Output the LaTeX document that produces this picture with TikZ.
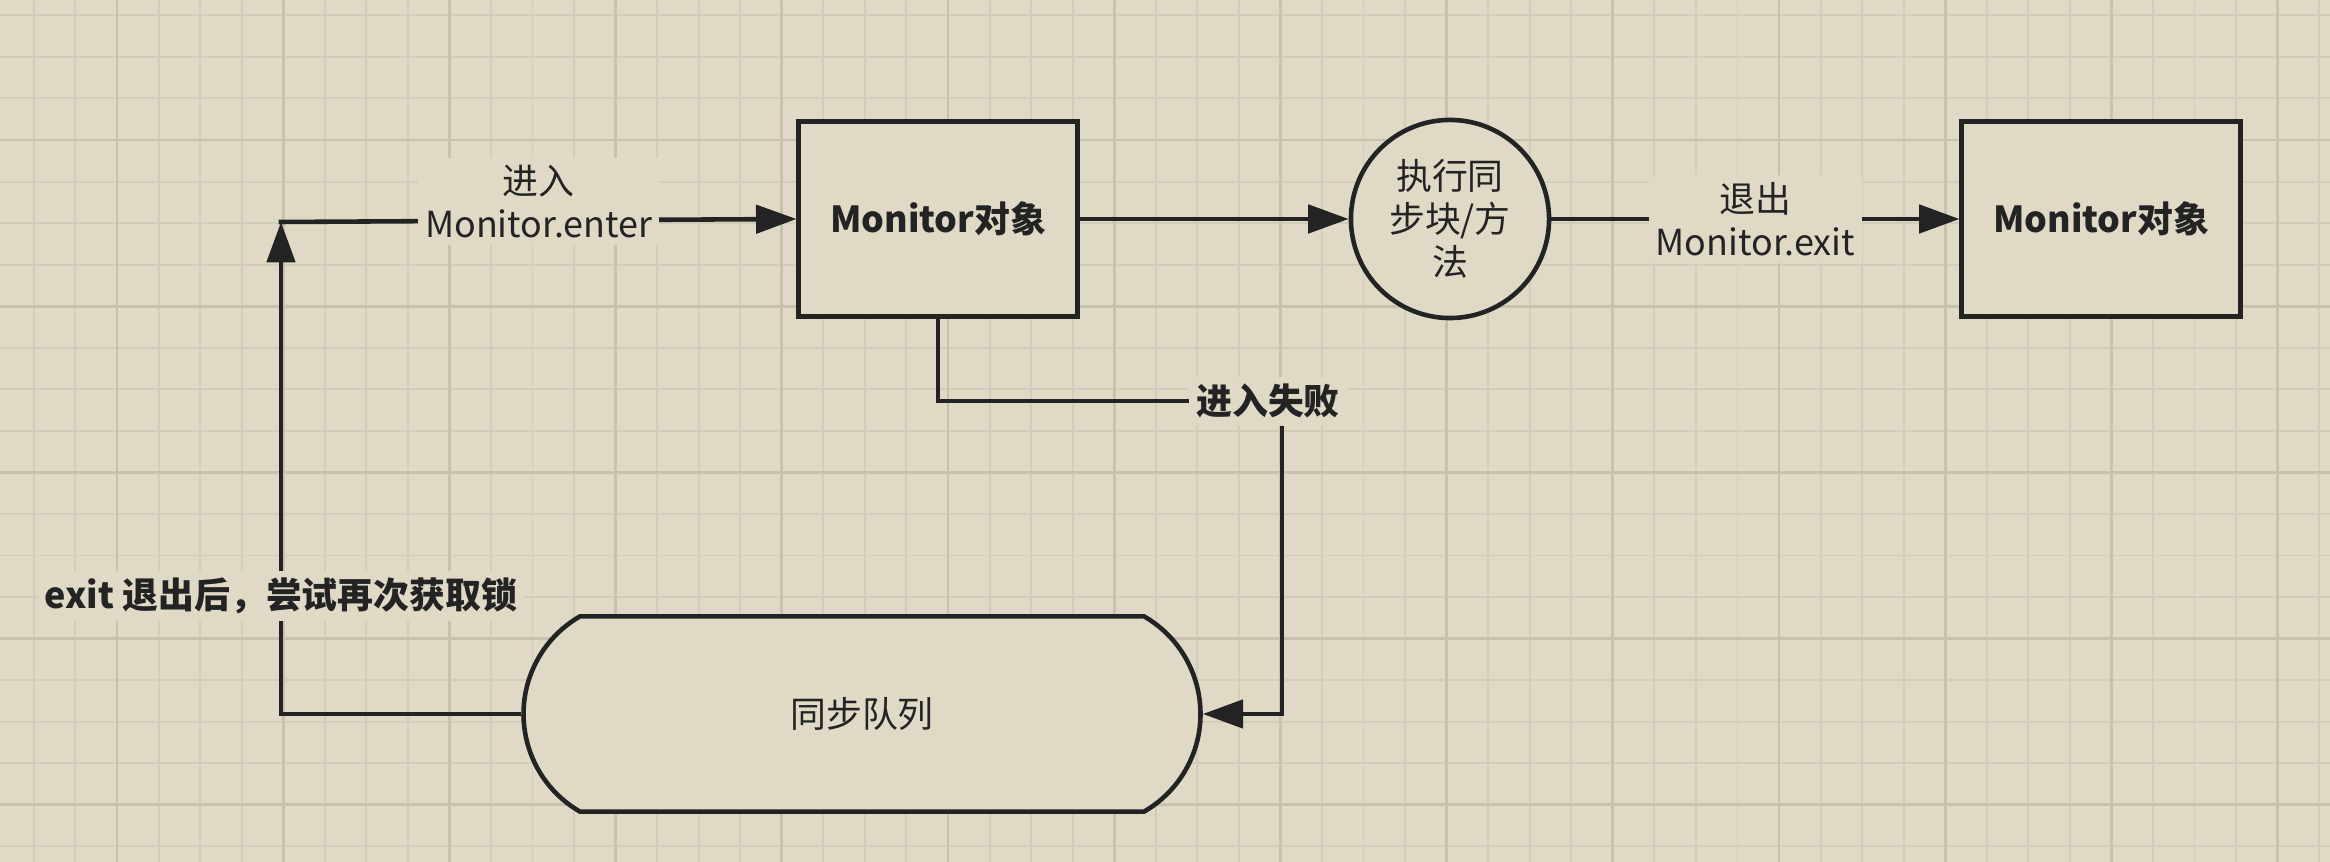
\documentclass[tikz,border=0pt]{standalone}
\usepackage{fontspec}
\setmainfont{Noto Sans CJK SC}
\usetikzlibrary{arrows.meta,shapes.misc}
\definecolor{paper}{HTML}{E0D9C6}
\definecolor{gridminor}{HTML}{D3CCBA}
\definecolor{gridmajor}{HTML}{C8C1AE}
\definecolor{ink}{HTML}{232323}

\begin{document}
\begin{tikzpicture}[x=0.01cm, y=-0.01cm,
    every node/.style={font=\fontsize{10.2pt}{12.2pt}\selectfont, text=ink},
    boldtext/.style={font=\fontsize{10.2pt}{12.2pt}\selectfont\bfseries},
    conn/.style={draw=ink, line width=1.3pt},
    arrow/.style={conn, -{Triangle[length=11.5pt,width=8pt]}},
    monbox/.style={draw=ink, line width=1.4pt, fill=paper, minimum width=2.78cm, minimum height=1.94cm, boldtext},
    execcircle/.style={circle, draw=ink, line width=1.3pt, fill=paper, minimum size=1.98cm, inner sep=0pt, align=center},
    queuebox/.style={rounded rectangle, rounded rectangle arc length=120, draw=ink, line width=1.3pt, fill=paper, minimum width=7.0cm, minimum height=1.95cm},
    tag/.style={fill=paper, inner sep=2pt, align=center}
  ]
      \fill[paper] (0,0) rectangle (2330,862);
      \useasboundingbox (0,0) rectangle (2330,862);
      % grid
      \foreach \i in {-2,...,53}
        \draw[gridminor, line width=0.55pt] ({117+41.55*\i},0) -- ({117+41.55*\i},862);
      \foreach \j in {-3,...,17}
        \draw[gridminor, line width=0.55pt] (0,{140+41.55*\j}) -- (2330,{140+41.55*\j});
      \foreach \i in {0,...,13}
        \draw[gridmajor, line width=0.8pt] ({117+166.2*\i},0) -- ({117+166.2*\i},862);
      \foreach \j in {-1,...,4}
        \draw[gridmajor, line width=0.8pt] (0,{140+166.2*\j}) -- (2330,{140+166.2*\j});

      \node[monbox] (mon1) at (938,219) {Monitor对象};
      \node[execcircle] (exec) at (1450,219) {执行同\\步块/方\\法};
      \node[monbox] (mon2) at (2101,219) {Monitor对象};
      \node[queuebox] (queue) at (862,714) {同步队列};
      \node[tag, boldtext] (fail) at (1268,401) {进入失败};
      \coordinate (corner) at (281,222);

      \draw[arrow] (mon1.east) -- (exec.west);
      \draw[arrow] (exec.east) -- node[tag] {退出\\Monitor.exit} (mon2.west);
      \draw[arrow, shorten <=-0.65pt] (corner) -- node[tag, yshift=0.19cm] {进入\\Monitor.enter} (mon1.west);
      \draw[conn] (mon1.south) |- (fail.west);
      \draw[arrow] ([xshift=0.14cm]fail.south) |- (queue.east);
      \draw[arrow] (queue.west) -| node[tag, boldtext, pos=0.62] {exit 退出后，尝试再次获取锁} (corner);
    \end{tikzpicture}
\end{document}
